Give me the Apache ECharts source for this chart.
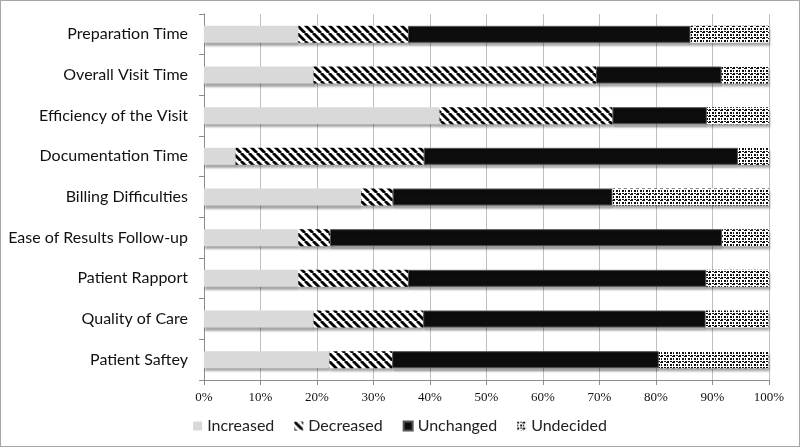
<!DOCTYPE html>
<html><head><meta charset="utf-8">
<script src="https://cdn.jsdelivr.net/npm/echarts@6/dist/echarts.min.js"></script>
<style>html,body{margin:0;padding:0;background:#fff}#c{width:800px;height:447px;box-sizing:border-box;border:1px solid #a6a6a6}</style>
</head><body><div id="c"></div>
<script>
const categories = ["Preparation Time","Overall Visit Time","Efficiency of the Visit","Documentation Time","Billing Difficulties","Ease of Results Follow-up","Patient Rapport","Quality of Care","Patient Saftey"];
const seriesNames = ["Increased","Decreased","Unchanged","Undecided"];
const increased = [16.7,19.4,41.7,5.6,27.8,16.7,16.7,19.4,22.2];
const decreased = [19.4,50.0,30.6,33.3,5.6,5.6,19.4,19.4,11.1];
const unchanged = [50.0,22.2,16.7,55.6,38.9,69.4,52.8,50.0,47.2];
const undecided = [13.9,8.3,11.1,5.6,27.8,8.3,11.1,11.1,19.4];
const tickLabels = ["0%","10%","20%","30%","40%","50%","60%","70%","80%","90%","100%"];

function stripePattern(){
  const c=document.createElement('canvas');c.width=8;c.height=8;
  const g=c.getContext('2d');g.fillStyle='#fff';g.fillRect(0,0,8,8);
  g.strokeStyle='#000';g.lineWidth=2.8;
  for(let k=-8;k<=16;k+=8){g.beginPath();g.moveTo(k,0);g.lineTo(k+8,8);g.stroke();}
  return {image:c,repeat:'repeat'};
}
function dotPattern(){
  const c=document.createElement('canvas');c.width=6;c.height=6;
  const g=c.getContext('2d');g.fillStyle='#fff';g.fillRect(0,0,6,6);
  g.fillStyle='#111';
  g.fillRect(0,0,2,2);g.fillRect(3,3,2,2);g.fillRect(3,0,2,1);g.fillRect(0,3,1,2);g.fillRect(5,1,1,1);
  return {image:c,repeat:'repeat'};
}
const colors=['#d9d9d9',stripePattern(),'#0d0d0d',dotPattern()];
const dataSets=[increased,decreased,unchanged,undecided];
const chart=echarts.init(document.getElementById('c'),null,{renderer:'canvas'});
chart.setOption({
  animation:false,
  grid:{left:203,right:30,top:13,bottom:66,containLabel:false},
  legend:{top:412,left:'center',itemWidth:9,itemHeight:9,itemGap:20,icon:'rect',
    textStyle:{fontFamily:'Lato',fontSize:16,color:'#222'},data:seriesNames},
  xAxis:{type:'value',min:0,max:100,interval:10,
    axisLine:{show:true,lineStyle:{color:'#8c8c8c'}},
    axisTick:{show:true,length:5,lineStyle:{color:'#8c8c8c'}},
    splitLine:{show:true,lineStyle:{color:'#bfbfbf'}},
    axisLabel:{formatter:(v)=>tickLabels[Math.round(v/10)],fontFamily:'Liberation Serif',fontSize:13,color:'#111',margin:11}},
  yAxis:{type:'category',data:categories,inverse:true,
    axisLine:{show:true,lineStyle:{color:'#8c8c8c'}},
    axisTick:{show:true,length:5,lineStyle:{color:'#8c8c8c'}},
    axisLabel:{fontFamily:'Lato',fontSize:16,color:'#111',margin:16}},
  series:dataSets.map((d,i)=>({
    name:seriesNames[i],type:'bar',stack:'t',barWidth:17,data:d,
    itemStyle:{color:colors[i],borderColor:i===2?'#555':'rgba(0,0,0,0)',borderWidth:i===2?1:0,
      shadowColor:'rgba(0,0,0,0.35)',shadowOffsetY:3,shadowOffsetX:1,shadowBlur:2}
  }))
});
</script></body></html>
